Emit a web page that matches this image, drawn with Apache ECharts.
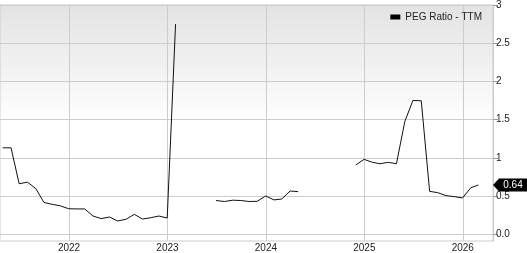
<!DOCTYPE html>
<html>
<head>
<meta charset="utf-8">
<script src="https://cdn.jsdelivr.net/npm/echarts@6/dist/echarts.min.js"></script>
<style>html,body{margin:0;padding:0;background:#fff}#c{width:527px;height:253px}</style>
</head>
<body>
<div id="c"></div>
<script>
const dates = [
  '2021-04-30','2021-05-31','2021-06-30','2021-07-31','2021-08-31','2021-09-30','2021-10-31','2021-11-30','2021-12-31',
  '2022-01-31','2022-02-28','2022-03-31','2022-04-30','2022-05-31','2022-06-30','2022-07-31','2022-08-31','2022-09-30','2022-10-31','2022-11-30','2022-12-31',
  '2023-01-31','2023-02-28','2023-03-31','2023-04-30','2023-05-31','2023-06-30','2023-07-31','2023-08-31','2023-09-30','2023-10-31','2023-11-30','2023-12-31',
  '2024-01-31','2024-02-29','2024-03-31','2024-04-30','2024-05-31','2024-06-30','2024-07-31','2024-08-31','2024-09-30','2024-10-31','2024-11-30','2024-12-31',
  '2025-01-31','2025-02-28','2025-03-31','2025-04-30','2025-05-31','2025-06-30','2025-07-31','2025-08-31','2025-09-30','2025-10-31','2025-11-30','2025-12-31',
  '2026-01-31','2026-02-28'
];
const pegValues = [
  1.13,1.13,0.66,0.68,0.595,0.414,0.39,0.37,0.332,
  0.33,0.33,0.237,0.203,0.224,0.172,0.194,0.259,0.198,0.215,0.237,0.211,
  2.75,null,null,null,null,0.44,0.427,0.444,0.44,0.427,0.43,0.50,
  0.448,0.46,0.565,0.556,null,null,null,null,null,null,0.905,0.979,
  0.94,0.922,0.94,0.922,1.474,1.75,1.746,0.56,0.543,0.504,0.491,0.474,
  0.608,0.643
];
const xTickYears = [2022, 2023, 2024, 2025, 2026];
const yTicks = [0, 0.5, 1, 1.5, 2, 2.5, 3];
const xMinDate = '2021-04-20', xMaxDate = '2026-04-23';
const yMin = -0.09, yMax = 3;
const seriesName = 'PEG Ratio - TTM';
const lastLabel = '0.64';

// date string -> fractional year (position on the value axis)
function toYear(s) {
  const d = new Date(s + 'T00:00:00Z');
  const y = d.getUTCFullYear();
  const a = Date.UTC(y, 0, 1), b = Date.UTC(y + 1, 0, 1);
  return y + (d.getTime() - a) / (b - a);
}
const xMin = toYear(xMinDate), xMax = toYear(xMaxDate);
const lastValue = pegValues[pegValues.length - 1];

const chart = echarts.init(document.getElementById('c'), null, {renderer: 'canvas'});
const font = 'Liberation Sans, Arial, sans-serif';
chart.setOption({
  animation: false,
  textStyle: {fontFamily: font},
  grid: {
    left: 0, right: 34, top: 3, bottom: 10,
    show: true,
    borderColor: '#cccccc', borderWidth: 1,
    backgroundColor: new echarts.graphic.LinearGradient(0, 0, 0, 1, [
      {offset: 0, color: '#e3e3e3'},
      {offset: 0.5, color: '#ffffff'},
      {offset: 1, color: '#ffffff'}
    ])
  },
  legend: {
    show: true, top: 7, right: 40,
    icon: 'rect', itemWidth: 10, itemHeight: 5, itemGap: 4,
    textStyle: {fontSize: 10, color: '#222', fontFamily: font},
    data: [{name: seriesName, itemStyle: {color: '#000'}}]
  },
  xAxis: {
    type: 'value', min: xMin, max: xMax,
    axisLine: {show: false},
    axisTick: {show: false, customValues: xTickYears},
    axisLabel: {customValues: xTickYears, margin: 2, fontSize: 10, color: '#222', fontFamily: font,
      formatter: v => String(Math.round(v))},
    splitLine: {show: true, lineStyle: {color: '#cccccc', width: 1}}
  },
  yAxis: {
    type: 'value', position: 'right', min: yMin, max: yMax,
    axisLine: {show: true, lineStyle: {color: '#cccccc'}},
    axisTick: {show: true, length: 5, lineStyle: {color: '#999'}, customValues: yTicks},
    axisLabel: {customValues: yTicks, margin: 3, fontSize: 10, color: '#222', fontFamily: font,
      formatter: v => v === 0 ? '0.0' : String(v)},
    splitLine: {show: true, lineStyle: {color: '#cccccc', width: 1}}
  },
  series: [{
    name: seriesName, type: 'line',
    data: dates.map((d, i) => [toYear(d), pegValues[i]]),
    connectNulls: false,
    showSymbol: false, symbol: 'none',
    lineStyle: {color: '#111111', width: 1},
    itemStyle: {color: '#000'},
    markPoint: {
      silent: true,
      symbol: 'path://M0,6.5 L6,0 L34,0 L34,13 L6,13 Z',
      symbolSize: [34, 13],
      symbolOffset: [17, 0],
      itemStyle: {color: '#000'},
      label: {show: true, color: '#fff', fontSize: 10, fontFamily: font, offset: [3, 0], formatter: lastLabel},
      data: [{coord: [xMax, lastValue]}]
    }
  }]
});
</script>
</body>
</html>
